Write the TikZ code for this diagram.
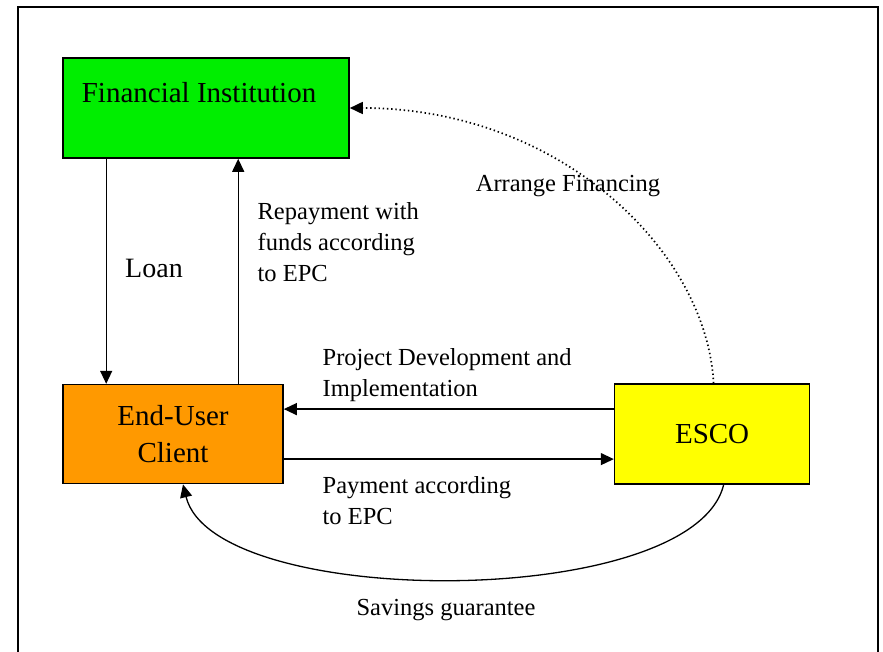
\documentclass[tikz,border=0pt]{standalone}
\usepackage{fontspec}
\setmainfont{Liberation Serif}
\usetikzlibrary{positioning,arrows.meta}
\definecolor{figreen}{RGB}{0,238,0}
\definecolor{euorange}{RGB}{255,153,0}
\definecolor{escoyellow}{RGB}{255,255,0}
\tikzset{fbox/.style={rectangle,draw,line width=1.6pt,inner sep=0pt,font=\fontsize{29}{37}\selectfont,align=center},
	 flabel/.style={inner sep=0pt,align=left,font=\fontsize{24.5}{31}\selectfont},
	 fdots/.style={line width=1.7pt,dash pattern=on 1.4pt off 2.8pt},
	 >={Triangle[length=13pt,width=12pt]},
	 node distance = 1
	 }

\begin{document}
\begin{tikzpicture}[x=1pt,y=1pt,line width=1.3pt]
	\useasboundingbox (0,0) rectangle (883,-652);
	\draw[line width=2.4pt] (18,-670) -- (18,-7) -- (878,-7) -- (878,-670);

	\node[fbox,fill=figreen,minimum width=286pt,minimum height=100pt] (fi) at (206,-108) {};
	\node[flabel,font=\fontsize{29}{37}\selectfont] (fitext) [below right=25pt and 19pt of fi.north west] {Financial Institution};
	\node[fbox,fill=euorange,minimum width=220pt,minimum height=99pt] (eu) [below right=225pt and 0pt of fi.south west] {End-User\\Client};
	\node[fbox,fill=escoyellow,minimum width=195pt,minimum height=100pt] (esco) [right=330pt of eu] {ESCO};

	\draw[->] ([xshift=44pt]fi.south west) -- ([xshift=44pt]eu.north west);
	\draw[->] ([xshift=176pt]eu.north west) -- ([xshift=176pt]fi.south west);
	\draw[->] ([yshift=25pt]esco.west) -- ([yshift=25pt]eu.east);
	\draw[->] ([yshift=-25pt]eu.east) -- ([yshift=-25pt]esco.west);
	\draw[->,fdots] ([xshift=1.5pt]esco.north) .. controls +(-7,132) and +(211,0) .. (fi.east);
	\draw[->] ([xshift=11.5pt]esco.south) .. controls +(-31,-126) and +(31,-126) .. ([xshift=10pt]eu.south);

	\node[flabel,font=\fontsize{28}{34}\selectfont] (loan) at (154,-268) {Loan};
	\node[flabel,anchor=west] (repay) at (257,-242) {Repayment with\\funds according\\to EPC};
	\node[flabel,anchor=west] (projdev) at (322,-375) {Project Development and\\Implementation};
	\node[flabel,anchor=west] (pay) at (322,-501) {Payment according\\to EPC};
	\node[flabel] (arrange) at (568,-186) {Arrange Financing};
	\node[flabel] (savings) at (446,-610) {Savings guarantee};
\end{tikzpicture}
\end{document}
